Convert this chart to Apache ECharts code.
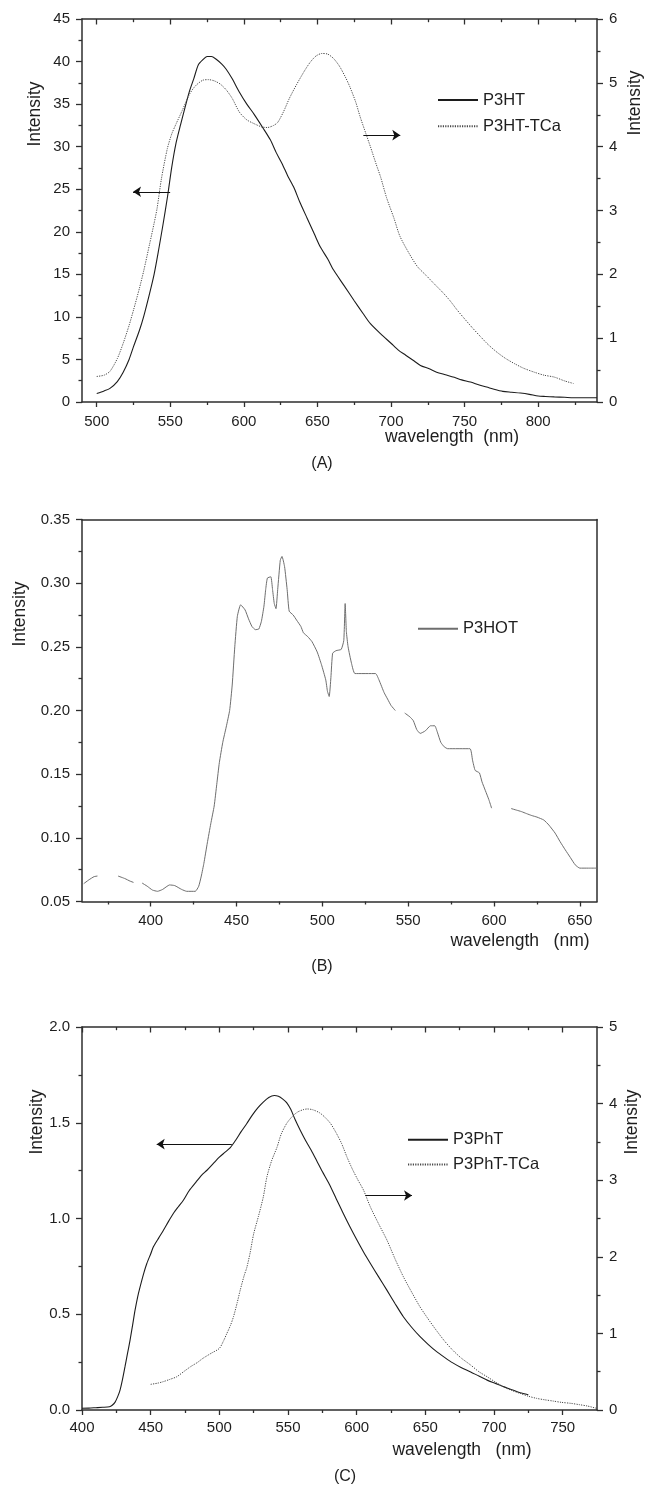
<!DOCTYPE html>
<html><head><meta charset="utf-8">
<script src="https://cdn.jsdelivr.net/npm/echarts@6/dist/echarts.min.js"></script>
<style>html,body{margin:0;padding:0;background:#fff}#c{width:645px;height:1485px}</style>
</head><body><div id="c"></div>
<script>
// ---------- Panel A ----------
const A_xTicks = [500, 550, 600, 650, 700, 750, 800];
const A_xMinor = [525, 575, 625, 675, 725, 775, 825];
const A_P3HT_x = [500,505,509,514,518,522,525,529,532,536,539,542,545,548,551,554,557,560,563,566,569,572,575,578,581,585,588,592,597,602,607,613,618,622,626,630,634,638,643,648,652,657,661,668,675,681,686,693,700,705,710,715,720,726,731,737,743,748,754,760,765,770,776,782,788,794,800,805,811,818,824,832,840];
const A_P3HT_y = [1.0,1.3,1.6,2.4,3.5,5.0,6.5,8.4,10.1,12.8,15.0,17.8,20.8,24.0,27.6,30.5,32.6,34.6,36.5,38.0,39.6,40.2,40.6,40.6,40.3,39.7,39.1,38.0,36.4,35.0,33.8,32.2,30.8,29.3,28.0,26.5,25.2,23.5,21.6,19.7,18.2,16.8,15.5,13.7,11.9,10.4,9.2,8.0,6.9,6.1,5.5,4.9,4.3,3.9,3.5,3.2,2.9,2.6,2.35,2.0,1.76,1.5,1.25,1.15,1.05,0.9,0.7,0.65,0.6,0.55,0.5,0.5,0.5];
const A_TCa_x = [500,505,509,514,518,522,525,529,532,536,539,541,544,548,551,554,558,563,567,572,576,580,584,588,592,597,602,607,612,616,620,623,627,631,636,641,645,649,653,657,661,665,669,672,676,679,683,686,690,693,697,702,706,712,718,724,729,735,740,745,749,755,761,766,772,778,784,790,797,804,811,818,824];
const A_TCa_y = [0.40,0.42,0.48,0.68,0.92,1.2,1.44,1.78,2.06,2.48,2.8,3.03,3.5,3.97,4.2,4.36,4.56,4.82,4.95,5.04,5.05,5.03,4.98,4.89,4.76,4.54,4.42,4.36,4.31,4.30,4.33,4.38,4.55,4.76,4.98,5.18,5.32,5.42,5.46,5.45,5.38,5.26,5.09,4.94,4.7,4.47,4.2,4.0,3.72,3.52,3.2,2.88,2.6,2.34,2.12,1.98,1.86,1.72,1.59,1.44,1.33,1.17,1.02,0.9,0.78,0.68,0.60,0.53,0.47,0.42,0.39,0.33,0.29];

// ---------- Panel B ----------
const B_xTicks = [400, 450, 500, 550, 600, 650];
const B_xMinor = [375, 425, 475, 525, 575, 625];
const B_P3HOT_x = [361,364,367,369,375,381,385,388,390,392.5,395,398,401,404,407,411,414,418,421,426,428,429.5,431,433,435,437,438.5,440,442,444,446,447.5,449,450.5,452.4,455,457,459,461,463,464.5,466,467,468,470,471,472,473,474,475.5,476.5,478,479.5,480.7,483,485,487.5,489,491.5,494,497,499.5,502,503,504,505,506,508,511,512.5,513.3,514,515,517,519,531,533,536,538,540,542.5,545,548,551,553,555,557,560,563,565.5,567,569,571,573,586,587.5,589,591.5,593,595,597,598.6,604,610,613,616,619,622,625,629,632,635.6,638.5,641.5,644.5,647.3,650,655,660];
const B_P3HOT_y = [0.064,0.067,0.0695,0.070,null,0.070,0.068,0.066,0.065,null,0.0645,0.062,0.059,0.058,0.0595,0.063,0.0625,0.0595,0.058,0.058,0.062,0.070,0.080,0.096,0.111,0.125,0.142,0.159,0.175,0.187,0.200,0.220,0.250,0.274,0.283,0.279,0.272,0.266,0.2635,0.264,0.270,0.282,0.295,0.304,0.305,0.295,0.284,0.280,0.295,0.318,0.321,0.313,0.295,0.278,0.275,0.271,0.266,0.261,0.258,0.254,0.246,0.236,0.224,0.215,0.211,0.226,0.245,0.247,0.248,0.255,0.284,0.262,0.250,0.237,0.229,0.229,0.224,0.214,0.209,0.204,0.200,null,0.198,0.195,0.192,0.185,0.182,0.184,0.188,0.188,0.183,0.175,0.1715,0.170,0.170,0.161,0.153,0.151,0.144,0.137,0.130,0.1233,null,0.123,0.1218,0.1206,0.119,0.1175,0.1163,0.114,0.110,0.1037,0.097,0.0906,0.0845,0.0788,0.0762,0.0762,0.0762];

// ---------- Panel C ----------
const C_xTicks = [400, 450, 500, 550, 600, 650, 700, 750];
const C_xMinor = [425, 475, 525, 575, 625, 675, 725];
const C_P3PhT_x = [400,405,410,415,420,422,424,426,427.7,429.5,431.3,433,435,437,438.6,440.5,442.3,445,447.2,450,452,456,459.3,463,466.5,470,473.8,478,483,487,491,496,500,504,508,512,516,520,524,528,532,536,540,543,546,549,552,555,559,563,567,571,575,580,585,590,595,600,605,610,616,622,628,634,640,646,652,658,664,670,676,683,689,695,701,707,713,719,725];
const C_P3PhT_y = [0.009,0.01,0.012,0.014,0.017,0.025,0.04,0.07,0.104,0.16,0.226,0.29,0.365,0.45,0.52,0.59,0.643,0.715,0.765,0.815,0.852,0.9,0.939,0.985,1.026,1.06,1.095,1.145,1.19,1.225,1.252,1.29,1.32,1.345,1.37,1.41,1.455,1.496,1.54,1.578,1.608,1.632,1.642,1.638,1.625,1.605,1.57,1.52,1.46,1.405,1.355,1.30,1.245,1.18,1.105,1.03,0.958,0.89,0.825,0.765,0.695,0.626,0.555,0.487,0.432,0.384,0.343,0.306,0.275,0.246,0.222,0.199,0.177,0.156,0.139,0.122,0.106,0.09,0.08];
const C_TCa_x = [450,455,459,464,469,474,479,484,488,494,500,503,505.5,508,510.3,513,515.2,518,520,522.4,525,528.5,532,534.6,538,542,545,549,553,557,561,564,568,573,577,581,585,589,593,597,601,605,610,616,622,628,634,640,646,652,658,664,670,676,683,689,695,701,707,713,719,725,731,737,743,749,756,762,768,775];
const C_TCa_y = [0.335,0.35,0.369,0.40,0.434,0.5,0.565,0.62,0.674,0.74,0.804,0.9,1.0,1.1,1.217,1.4,1.565,1.75,1.86,2.05,2.3,2.53,2.78,3.04,3.25,3.43,3.6,3.74,3.83,3.89,3.92,3.93,3.92,3.88,3.82,3.74,3.62,3.48,3.30,3.14,3.0,2.87,2.65,2.43,2.22,1.97,1.74,1.54,1.35,1.19,1.04,0.9,0.78,0.68,0.587,0.5,0.434,0.365,0.30,0.255,0.217,0.18,0.152,0.133,0.117,0.1,0.087,0.07,0.052,0.02];

// ---------- helpers ----------
const font = '"Liberation Sans", Arial, Helvetica, sans-serif';
const axisColor = '#2e2e2e';
const txt = '#1e1e1e';
const zip = (xs, ys) => xs.map((x, i) => [x, ys[i]]);
const tickStyle = { color: axisColor, width: 1.3 };
const lineAx = { color: axisColor, width: 1.5 };

function xAxesFor(g, min, max, majors, minors, topTicks, margin) {
  const base = { type: 'value', gridIndex: g, min: min, max: max, splitLine: { show: false }, axisPointer: { show: false } };
  const arr = [
    Object.assign({}, base, { position: 'bottom',
      axisLine: { show: true, onZero: false, lineStyle: lineAx },
      axisTick: { show: true, inside: false, length: 5, customValues: majors, lineStyle: tickStyle },
      axisLabel: { show: true, customValues: majors, margin: margin, fontSize: 15, color: txt, fontFamily: font } }),
    Object.assign({}, base, { position: 'bottom',
      axisLine: { show: false, onZero: false },
      axisTick: { show: true, inside: false, length: 3, customValues: minors, lineStyle: tickStyle },
      axisLabel: { show: false } }),
    Object.assign({}, base, { position: 'top',
      axisLine: { show: true, onZero: false, lineStyle: lineAx },
      axisTick: topTicks ? { show: true, inside: true, length: 5.5, customValues: majors, lineStyle: tickStyle } : { show: false },
      axisLabel: { show: false } })
  ];
  if (topTicks) arr.push(Object.assign({}, base, { position: 'top',
      axisLine: { show: false, onZero: false },
      axisTick: { show: true, inside: true, length: 3.2, customValues: minors, lineStyle: tickStyle },
      axisLabel: { show: false } }));
  return arr;
}
function yAxisFor(g, pos, min, max, interval, fmt, ticks) {
  return { type: 'value', gridIndex: g, position: pos, min: min, max: max, interval: interval,
    splitLine: { show: false }, axisPointer: { show: false },
    axisLine: { show: true, onZero: false, lineStyle: lineAx },
    axisTick: { show: ticks, inside: false, length: 6, lineStyle: tickStyle },
    minorTick: { show: ticks, splitNumber: 2, length: 3.5, lineStyle: tickStyle },
    axisLabel: { show: ticks, margin: 12, fontSize: 15, color: txt, fontFamily: font, formatter: fmt } };
}
const solidDark = { color: '#1c1c1c', width: 1.1, type: 'solid' };
const dotted = { color: '#4a4a4a', width: 1, type: [1.2, 1.2] };
const arrowLine = (p1, p2) => ({
  silent: true, animation: false, symbol: ['none', 'arrow'], symbolSize: 8,
  label: { show: false }, lineStyle: { color: '#111', width: 1.1, type: 'solid' },
  emphasis: { disabled: true },
  data: [[{ coord: p1 }, { coord: p2 }]]
});
function lineSeries(name, data, xi, yi, style, extra) {
  return Object.assign({ type: 'line', name: name, data: data, xAxisIndex: xi, yAxisIndex: yi,
    showSymbol: false, symbol: 'none', smooth: 0.25, connectNulls: false, lineStyle: style,
    itemStyle: { color: style.color }, emphasis: { disabled: true }, animation: false }, extra || {});
}
function txtEl(text, x, y, size, rot) {
  return { type: 'text', x: x, y: y, rotation: rot || 0, silent: true,
    style: { text: text, fontSize: size, fontFamily: font, fill: txt, align: 'center', verticalAlign: 'middle' } };
}

const xAxes = [].concat(
  xAxesFor(0, 490, 840, A_xTicks, A_xMinor, true, 12),
  xAxesFor(1, 360, 660, B_xTicks, B_xMinor, false, 12),
  xAxesFor(2, 400, 775, C_xTicks, C_xMinor, true, 10)
);
const yAxes = [
  yAxisFor(0, 'left', 0, 45, 5, v => String(v), true),
  yAxisFor(0, 'right', 0, 6, 1, v => String(v), true),
  yAxisFor(1, 'left', 0.05, 0.35, 0.05, v => v.toFixed(2), true),
  yAxisFor(1, 'right', 0.05, 0.35, 0.05, v => v.toFixed(2), false),
  yAxisFor(2, 'left', 0, 2, 0.5, v => v.toFixed(1), true),
  yAxisFor(2, 'right', 0, 5, 1, v => String(v), true)
];

const legendBase = { orient: 'vertical', itemWidth: 40, itemHeight: 14, padding: 0, selectedMode: false,
  itemStyle: { color: 'rgba(0,0,0,0)', borderColor: 'rgba(0,0,0,0)', borderWidth: 0, opacity: 0 },
  textStyle: { fontSize: 16.5, color: txt, fontFamily: font } };

const option = {
  animation: false,
  backgroundColor: '#ffffff',
  grid: [
    { left: 82, top: 19, width: 515, height: 383 },
    { left: 82, top: 519.5, width: 515, height: 382 },
    { left: 82, top: 1027, width: 515, height: 383 }
  ],
  xAxis: xAxes,
  yAxis: yAxes,
  legend: [
    Object.assign({}, legendBase, { left: 437, top: 91.5, itemGap: 9.3, data: ['P3HT', 'P3HT-TCa'] }),
    Object.assign({}, legendBase, { left: 417, top: 620.3, data: ['P3HOT'] }),
    Object.assign({}, legendBase, { left: 407, top: 1131.3, itemGap: 7.7, data: ['P3PhT', 'P3PhT-TCa'] })
  ],
  series: [
    lineSeries('P3HT', zip(A_P3HT_x, A_P3HT_y), 0, 0, solidDark,
      { markLine: arrowLine([549.9, 24.7], [524.7, 24.7]) }),
    lineSeries('P3HT-TCa', zip(A_TCa_x, A_TCa_y), 0, 1, dotted,
      { markLine: arrowLine([681.2, 4.18], [706.3, 4.18]) }),
    lineSeries('P3HOT', zip(B_P3HOT_x, B_P3HOT_y), 4, 2, { color: '#6e6e6e', width: 1, type: 'solid' }, { smooth: 0.15 }),
    lineSeries('P3PhT', zip(C_P3PhT_x, C_P3PhT_y), 7, 4, solidDark,
      { markLine: arrowLine([509.1, 1.388], [454.4, 1.388]) }),
    lineSeries('P3PhT-TCa', zip(C_TCa_x, C_TCa_y), 7, 5, dotted,
      { markLine: arrowLine([606.3, 2.80], [640.3, 2.80]) })
  ],
  graphic: [
    txtEl('Intensity', 35, 114, 17.5, Math.PI / 2),
    txtEl('Intensity', 635, 103, 17.5, Math.PI / 2),
    txtEl('wavelength  (nm)', 452, 437, 17.5),
    txtEl('(A)', 322, 464, 16),
    txtEl('Intensity', 20, 614, 17.5, Math.PI / 2),
    txtEl('wavelength   (nm)', 520, 941, 17.5),
    txtEl('(B)', 322, 967, 16),
    txtEl('Intensity', 37, 1122, 17.5, Math.PI / 2),
    txtEl('Intensity', 632, 1122, 17.5, Math.PI / 2),
    txtEl('wavelength   (nm)', 462, 1450, 17.5),
    txtEl('(C)', 345, 1477, 16)
  ]
};
const chart = echarts.init(document.getElementById('c'), null, { renderer: 'canvas' });
chart.setOption(option);
</script>
</body></html>
